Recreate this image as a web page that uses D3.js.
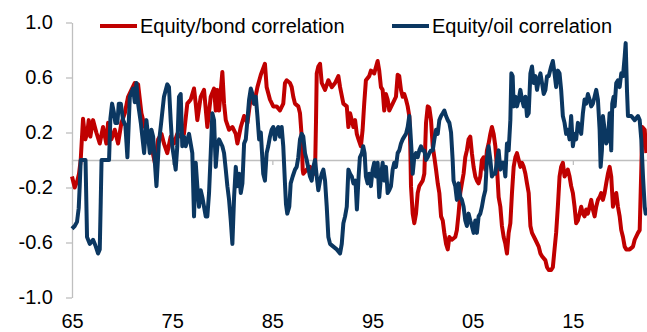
<!DOCTYPE html>
<html>
<head>
<meta charset="utf-8">
<script src="https://cdn.jsdelivr.net/npm/d3@7"></script>
<style>
  body { margin: 0; background: #fff; }
  svg { display: block; font-family: "Liberation Sans", Arial, sans-serif; }
  .axis text { font-size: 20px; fill: #000; font-family: "Liberation Sans", Arial, sans-serif; }
  .axis path, .axis line { stroke: #bfbfbf; stroke-width: 1.3; }
</style>
</head>
<body>
<svg width="647" height="332"></svg>
<script>
// series names (legend)
const seriesNames = ["Equity/bond correlation", "Equity/oil correlation"];
const yTicks = [-1.0, -0.6, -0.2, 0.2, 0.6, 1.0];
const xTicks = [1965, 1975, 1985, 1995, 2005, 2015];

// [year, correlation]
const bondCorr = [
  [1965.0,-0.12],[1965.27,-0.2],[1965.53,-0.15],[1965.7,-0.1],[1965.87,0.0],[1966.1,0.3],[1966.33,0.15],[1966.53,0.2],
  [1966.67,0.29],[1966.83,0.17],[1967.1,0.29],[1967.43,0.2],[1967.77,0.12],[1968.1,0.24],[1968.43,0.12],[1968.6,0.27],
  [1968.93,0.15],[1969.27,0.22],[1969.6,0.12],[1969.93,0.27],[1970.27,0.34],[1970.6,0.46],[1970.93,0.51],[1971.27,0.56],
  [1971.6,0.55],[1971.93,0.34],[1972.27,0.24],[1972.6,0.19],[1972.93,0.1],[1973.27,-0.02],[1973.6,0.15],[1973.93,0.19],
  [1974.18,0.12],[1974.51,0.05],[1974.85,0.17],[1975.18,0.12],[1975.51,0.19],[1975.85,0.17],[1976.18,0.19],[1976.51,0.41],
  [1976.85,0.44],[1977.18,0.52],[1977.35,0.41],[1977.51,0.29],[1977.85,0.46],[1978.18,0.51],[1978.51,0.24],[1978.85,0.46],
  [1979.18,0.52],[1979.35,0.36],[1979.51,0.51],[1979.68,0.36],[1980.01,0.64],[1980.18,0.41],[1980.35,0.29],[1980.68,0.22],
  [1981.01,0.24],[1981.35,0.19],[1981.51,0.12],[1981.85,0.24],[1982.18,0.32],[1982.51,0.27],[1982.85,0.46],[1983.18,0.41],
  [1983.51,0.53],[1983.85,0.62],[1984.26,0.7],[1984.43,0.53],[1984.76,0.44],[1985.09,0.39],[1985.43,0.39],[1985.76,0.36],
  [1986.09,0.41],[1986.26,0.56],[1986.43,0.58],[1986.76,0.56],[1986.93,0.53],[1987.09,0.46],[1987.26,0.41],[1987.59,0.39],
  [1987.76,0.34],[1987.93,0.17],[1988.03,-0.07],[1988.09,-0.1],[1988.43,-0.07],[1988.76,-0.05],[1989.09,-0.1],[1989.26,-0.1],
  [1989.36,0.29],[1989.43,0.63],[1989.59,0.68],[1989.76,0.7],[1989.93,0.56],[1990.26,0.51],[1990.59,0.58],[1990.93,0.53],
  [1991.26,0.56],[1991.59,0.61],[1991.76,0.53],[1992.09,0.41],[1992.43,0.39],[1992.59,0.24],[1992.76,0.34],[1992.93,0.29],
  [1993.09,0.24],[1993.26,0.29],[1993.43,0.19],[1993.6,0.15],[1993.84,0.1],[1994.01,0.22],[1994.17,0.41],[1994.34,0.58],
  [1994.67,0.61],[1994.84,0.65],[1995.17,0.63],[1995.51,0.72],[1995.67,0.65],[1995.84,0.53],[1996.01,0.51],[1996.17,0.36],
  [1996.34,0.48],[1996.51,0.44],[1996.67,0.36],[1997.01,0.41],[1997.34,0.46],[1997.51,0.62],[1997.67,0.61],[1997.84,0.51],
  [1998.01,0.46],[1998.17,0.48],[1998.34,0.44],[1998.51,0.39],[1998.67,0.32],[1998.77,0.1],[1998.84,-0.19],[1999.01,-0.39],
  [1999.17,-0.46],[1999.34,-0.39],[1999.51,-0.24],[1999.67,-0.19],[1999.84,-0.17],[2000.01,-0.15],[2000.17,-0.1],[2000.34,0.27],
  [2000.51,0.39],[2000.67,0.38],[2000.84,0.29],[2001.01,0.1],[2001.17,0.02],[2001.34,-0.07],[2001.51,-0.17],[2001.67,-0.24],
  [2001.84,-0.41],[2002.01,-0.44],[2002.17,-0.53],[2002.34,-0.61],[2002.51,-0.65],[2002.67,-0.56],[2002.92,-0.58],[2003.26,-0.56],
  [2003.42,-0.51],[2003.59,-0.39],[2003.76,-0.24],[2003.92,-0.17],[2004.09,-0.1],[2004.26,0.02],[2004.42,0.07],[2004.59,0.15],
  [2004.76,0.17],[2004.92,0.05],[2005.09,-0.05],[2005.26,-0.12],[2005.42,-0.15],[2005.59,-0.17],[2005.76,-0.12],[2005.92,0.0],
  [2006.09,0.02],[2006.26,-0.07],[2006.42,0.07],[2006.59,0.12],[2006.76,0.19],[2006.92,0.24],[2007.09,0.19],[2007.26,0.1],
  [2007.42,-0.05],[2007.59,-0.27],[2007.76,-0.34],[2007.92,-0.48],[2008.09,-0.56],[2008.26,-0.61],[2008.42,-0.68],[2008.59,-0.53],
  [2008.76,-0.46],[2008.92,-0.24],[2009.09,-0.05],[2009.26,0.02],[2009.42,0.05],[2009.59,0.0],[2009.76,-0.05],[2009.92,-0.02],
  [2010.09,-0.05],[2010.26,-0.1],[2010.42,-0.17],[2010.59,-0.24],[2010.76,-0.48],[2010.92,-0.53],[2011.26,-0.58],[2011.59,-0.63],
  [2011.76,-0.68],[2011.92,-0.7],[2012.26,-0.73],[2012.42,-0.78],[2012.59,-0.8],[2012.83,-0.8],[2013.0,-0.78],[2013.17,-0.65],
  [2013.33,-0.53],[2013.5,-0.34],[2013.67,-0.12],[2013.83,-0.05],[2014.0,-0.02],[2014.17,-0.12],[2014.33,-0.1],[2014.5,-0.07],
  [2014.67,-0.12],[2014.83,-0.19],[2015.0,-0.24],[2015.17,-0.34],[2015.33,-0.46],[2015.5,-0.44],[2015.67,-0.39],[2015.83,-0.34],
  [2016.0,-0.39],[2016.17,-0.41],[2016.33,-0.36],[2016.5,-0.39],[2016.67,-0.34],[2016.83,-0.29],[2017.0,-0.36],[2017.17,-0.41],
  [2017.33,-0.34],[2017.5,-0.29],[2017.67,-0.27],[2017.83,-0.24],[2018.0,-0.29],[2018.17,-0.24],[2018.33,-0.17],[2018.5,-0.1],
  [2018.67,-0.05],[2018.83,-0.12],[2019.0,-0.34],[2019.17,-0.29],[2019.33,-0.24],[2019.5,-0.34],[2019.67,-0.41],[2019.83,-0.51],
  [2020.0,-0.56],[2020.17,-0.63],[2020.33,-0.65],[2020.67,-0.65],[2021.0,-0.63],[2021.17,-0.58],[2021.5,-0.53],[2021.67,-0.51],
  [2021.83,-0.07],[2021.93,0.24],[2022.17,0.22],[2022.33,0.05]
];

const oilCorr = [
  [1965.0,-0.5],[1965.27,-0.48],[1965.5,-0.45],[1965.67,-0.35],[1965.77,-0.19],[1965.87,0.0],[1966.35,0.0],[1966.5,-0.56],
  [1966.77,-0.61],[1967.1,-0.58],[1967.33,-0.62],[1967.6,-0.68],[1967.77,-0.65],[1967.87,-0.3],[1967.95,0.0],[1968.7,0.0],
  [1968.83,0.3],[1969.0,0.41],[1969.17,0.35],[1969.33,0.27],[1969.53,0.27],[1969.67,0.41],[1969.87,0.41],[1970.1,0.29],
  [1970.33,0.25],[1970.53,0.02],[1970.77,0.46],[1971.1,0.52],[1971.27,0.42],[1971.43,0.56],[1971.6,0.41],[1971.87,0.27],
  [1972.2,0.05],[1972.43,0.29],[1972.77,0.05],[1972.93,0.22],[1973.1,0.17],[1973.43,-0.19],[1973.67,0.12],[1973.93,0.29],
  [1974.18,0.46],[1974.51,0.55],[1974.68,0.53],[1974.85,0.29],[1975.01,0.1],[1975.35,-0.07],[1975.51,0.1],[1975.68,0.46],
  [1975.85,0.48],[1976.01,0.1],[1976.18,0.17],[1976.35,0.1],[1976.68,0.19],[1977.01,0.05],[1977.18,-0.41],[1977.35,-0.02],
  [1977.51,-0.19],[1977.68,-0.34],[1977.85,-0.22],[1978.01,-0.27],[1978.35,-0.41],[1978.51,-0.41],[1978.68,-0.24],[1978.85,0.05],
  [1979.01,0.34],[1979.18,0.29],[1979.35,-0.05],[1979.51,0.1],[1979.68,0.15],[1980.01,0.1],[1980.18,0.05],[1980.35,-0.07],
  [1980.51,-0.19],[1980.68,-0.29],[1980.85,-0.44],[1981.01,-0.61],[1981.18,-0.27],[1981.35,-0.05],[1981.51,-0.19],[1981.68,-0.1],
  [1981.85,-0.24],[1982.01,-0.17],[1982.18,0.12],[1982.35,0.15],[1982.51,0.29],[1982.68,0.44],[1982.85,0.52],[1983.01,0.48],
  [1983.18,0.41],[1983.35,0.46],[1983.51,0.32],[1983.68,0.15],[1983.85,0.2],[1984.09,-0.1],[1984.26,-0.15],[1984.43,0.05],
  [1984.59,0.1],[1984.76,0.17],[1984.93,0.22],[1985.09,0.24],[1985.26,0.15],[1985.43,0.22],[1985.59,0.24],[1985.76,0.17],
  [1985.93,0.24],[1986.09,0.1],[1986.26,-0.17],[1986.36,-0.32],[1986.49,-0.39],[1986.69,-0.34],[1986.83,-0.17],[1987.03,-0.12],
  [1987.26,-0.07],[1987.43,-0.05],[1987.59,0.02],[1987.76,0.15],[1987.93,0.19],[1988.09,0.17],[1988.26,0.05],[1988.43,0.0],
  [1988.76,-0.12],[1988.93,-0.15],[1989.09,-0.05],[1989.26,0.0],[1989.43,-0.12],[1989.59,-0.22],[1989.76,-0.15],[1989.93,-0.1],
  [1990.09,-0.07],[1990.26,-0.15],[1990.43,-0.34],[1990.59,-0.56],[1990.76,-0.61],[1991.09,-0.63],[1991.43,-0.65],[1991.76,-0.68],
  [1991.93,-0.61],[1992.09,-0.46],[1992.26,-0.41],[1992.43,-0.34],[1992.59,-0.07],[1992.76,-0.1],[1992.93,-0.12],[1993.09,-0.17],
  [1993.3,-0.15],[1993.44,-0.36],[1993.61,-0.12],[1993.74,0.02],[1993.94,0.05],[1994.07,0.1],[1994.21,0.05],[1994.34,-0.12],
  [1994.51,-0.17],[1994.67,-0.1],[1994.84,-0.19],[1995.01,-0.07],[1995.17,-0.02],[1995.34,-0.12],[1995.51,-0.02],[1995.67,-0.27],
  [1995.84,-0.12],[1996.01,-0.02],[1996.17,-0.15],[1996.34,-0.05],[1996.51,-0.24],[1996.67,-0.22],[1996.84,-0.19],[1997.01,-0.07],
  [1997.17,-0.02],[1997.34,-0.05],[1997.51,0.05],[1997.67,0.07],[1997.84,0.12],[1998.01,0.15],[1998.17,0.17],[1998.34,0.19],
  [1998.51,0.24],[1998.67,0.32],[1998.77,0.22],[1998.91,0.05],[1999.01,-0.1],[1999.17,0.02],[1999.34,0.05],[1999.51,0.02],
  [1999.67,0.07],[1999.84,0.1],[2000.01,0.07],[2000.17,0.07],[2000.34,0.0],[2000.51,0.02],[2000.67,0.05],[2000.84,0.07],
  [2001.01,0.07],[2001.17,0.15],[2001.34,0.22],[2001.51,0.19],[2001.67,0.29],[2001.84,0.32],[2002.01,0.34],[2002.17,0.36],
  [2002.34,0.32],[2002.51,0.29],[2002.67,0.27],[2002.84,0.2],[2003.0,0.0],[2003.09,-0.15],[2003.26,-0.19],[2003.42,-0.29],
  [2003.59,-0.17],[2003.76,-0.27],[2003.92,-0.29],[2004.09,-0.34],[2004.26,-0.44],[2004.42,-0.48],[2004.59,-0.39],[2004.76,-0.44],
  [2004.92,-0.48],[2005.09,-0.53],[2005.26,-0.44],[2005.42,-0.53],[2005.59,-0.41],[2005.76,-0.39],[2005.92,-0.34],[2006.09,-0.27],
  [2006.26,-0.22],[2006.42,0.0],[2006.59,0.1],[2006.76,0.0],[2006.92,-0.12],[2007.09,-0.1],[2007.26,-0.1],[2007.42,0.0],
  [2007.59,0.07],[2007.76,-0.07],[2007.92,-0.02],[2008.09,-0.02],[2008.26,-0.12],[2008.42,0.12],[2008.59,0.07],[2008.76,0.29],
  [2008.86,0.63],[2008.99,0.61],[2009.09,0.39],[2009.26,0.46],[2009.42,0.39],[2009.59,0.44],[2009.76,0.51],[2009.92,0.44],
  [2010.09,0.39],[2010.26,0.46],[2010.42,0.32],[2010.59,0.34],[2010.76,0.63],[2010.92,0.68],[2011.09,0.56],[2011.26,0.61],
  [2011.42,0.51],[2011.59,0.58],[2011.76,0.63],[2011.92,0.56],[2012.09,0.48],[2012.26,0.51],[2012.42,0.61],[2012.59,0.61],
  [2012.83,0.68],[2013.0,0.72],[2013.17,0.63],[2013.33,0.53],[2013.5,0.65],[2013.67,0.63],[2013.83,0.51],[2014.0,0.32],
  [2014.17,0.27],[2014.33,0.19],[2014.5,0.22],[2014.67,0.15],[2014.83,0.32],[2015.0,0.1],[2015.17,0.19],[2015.33,0.15],
  [2015.5,0.27],[2015.67,0.24],[2015.83,0.19],[2016.0,0.34],[2016.17,0.44],[2016.33,0.41],[2016.5,0.48],[2016.67,0.44],
  [2016.83,0.39],[2017.0,0.41],[2017.17,0.46],[2017.33,0.51],[2017.5,0.44],[2017.67,0.22],[2017.77,-0.05],[2017.9,0.07],
  [2018.0,0.32],[2018.17,0.22],[2018.33,0.12],[2018.5,0.15],[2018.67,0.34],[2018.83,0.07],[2018.93,0.41],[2019.07,0.46],
  [2019.17,0.39],[2019.33,0.56],[2019.5,0.58],[2019.67,0.53],[2019.83,0.63],[2020.0,0.61],[2020.17,0.75],[2020.27,0.85],
  [2020.4,0.51],[2020.5,0.32],[2020.83,0.32],[2021.17,0.29],[2021.5,0.32],[2021.67,0.29],[2021.83,0.15],[2022.0,-0.12],
  [2022.17,-0.34],[2022.27,-0.39],[2022.4,-0.36]
];

const colors = ["#c00000", "#0b3761"];

const svg = d3.select("svg");

const x = d3.scaleLinear().domain([1965, 2022.4]).range([72, 647]);
const y = d3.scaleLinear().domain([-1, 1]).range([297.5, 22.5]);

// y axis on the left
svg.append("g")
  .attr("class", "axis")
  .attr("transform", "translate(72,0)")
  .call(d3.axisLeft(y).tickValues(yTicks).tickSize(6).tickSizeOuter(0).tickPadding(13)
    .tickFormat(d => d.toFixed(1)));

// zero line with small ticks
svg.append("g")
  .attr("class", "axis")
  .attr("transform", "translate(0," + y(0) + ")")
  .call(d3.axisBottom(x).tickValues(xTicks).tickSize(5).tickSizeOuter(0).tickFormat(""));

// year labels along the bottom
const xl = svg.append("g")
  .attr("class", "axis")
  .attr("transform", "translate(0,310)")
  .call(d3.axisBottom(x).tickValues(xTicks).tickSize(0).tickPadding(4)
    .tickFormat(d => String(d % 100).padStart(2, "0")));
xl.select(".domain").remove();

const line = d3.line()
  .x(d => x(d[0]))
  .y(d => y(d[1]));

[bondCorr, oilCorr].forEach((s, i) => {
  svg.append("path")
    .datum(s)
    .attr("fill", "none")
    .attr("stroke", colors[i])
    .attr("stroke-width", 4)
    .attr("stroke-linejoin", "round")
    .attr("d", line);
});

// legend
const legendX = [100, 392];
seriesNames.forEach((name, i) => {
  const lg = svg.append("g").attr("transform", "translate(" + legendX[i] + ",26)");
  lg.append("line")
    .attr("x1", 0).attr("x2", 37)
    .attr("stroke", colors[i]).attr("stroke-width", 4);
  lg.append("text")
    .attr("x", 40).attr("y", 7)
    .attr("font-size", 20)
    .attr("fill", "#000")
    .text(name);
});
</script>
</body>
</html>
